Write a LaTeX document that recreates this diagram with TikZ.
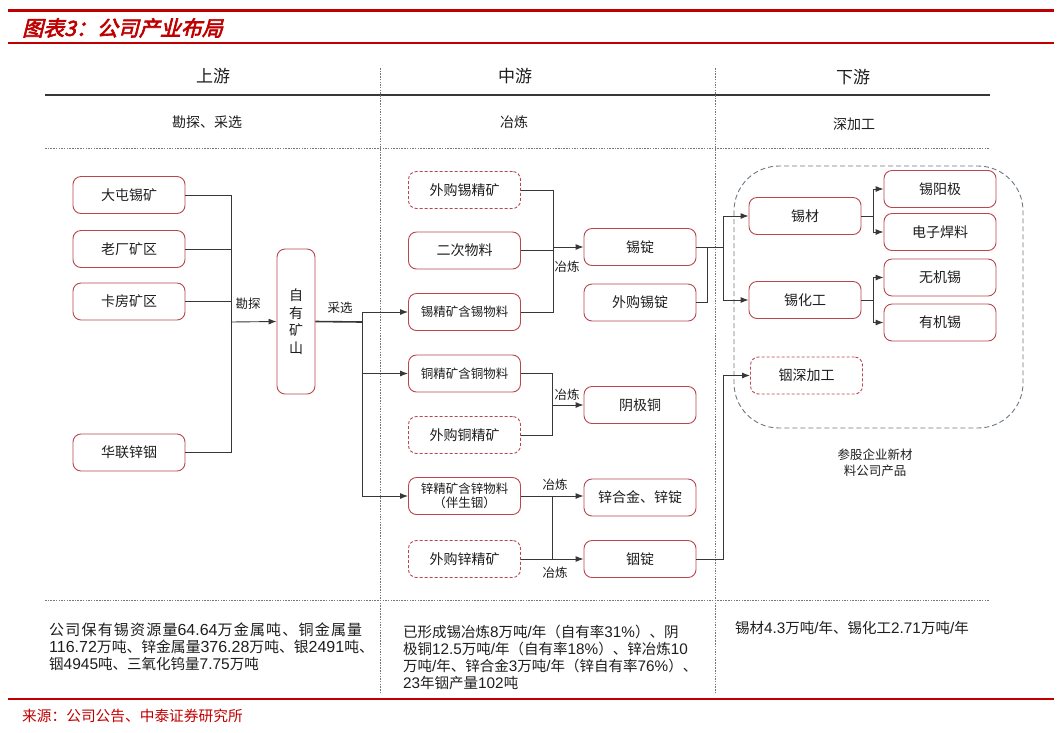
\documentclass[tikz,border=0pt]{standalone}
\usepackage{fontspec}
\setmainfont{Noto Sans CJK SC}
\newfontfamily\cjksp[LetterSpace=8]{Noto Sans CJK SC}
\newfontfamily\lat{Liberation Sans}
\newfontfamily\titlefont[FakeSlant=0.25,FakeBold=3]{Noto Sans CJK SC}
\usetikzlibrary{arrows.meta}
\definecolor{hdred}{RGB}{192,0,0}
\definecolor{boxred}{RGB}{185,70,78}
\definecolor{conn}{RGB}{55,55,55}
\definecolor{sepgray}{RGB}{120,120,120}
\definecolor{grpgray}{RGB}{110,120,130}
\definecolor{txt}{RGB}{30,30,30}
\newcommand\nm[1]{{\lat\fontsize{16}{17}\selectfont #1}}
\newcommand\nms[1]{{\lat\fontsize{15.5}{17}\selectfont #1}}
\newcommand\nmb[1]{{\lat\fontsize{15.3}{17}\selectfont #1}}
\tikzset{
  box/.style={draw=boxred, line width=0.9pt, rounded corners=8pt, fill=white,
    minimum width=112pt, minimum height=37pt, inner sep=0pt, text=txt,
    font=\fontsize{14}{16}\selectfont},
  dbox/.style={box, dash pattern=on 3pt off 2pt},
  smallbox/.style={box, font=\fontsize{12.5}{14}\selectfont},
  conline/.style={draw=conn, line width=0.9pt},
  arr/.style={conline, -{Latex[length=8pt,width=6pt]}},
  clabel/.style={font=\fontsize{12.5}{14}\selectfont, text=txt, inner sep=1pt},
  sep/.style={draw=sepgray, line width=0.8pt, dash pattern=on 1.5pt off 1.2pt},
  hdr/.style={font=\fontsize{17}{19}\selectfont, text=txt},
  subhdr/.style={font=\fontsize{14}{16}\selectfont, text=txt},
  note/.style={font=\fontsize{15}{17}\selectfont, text=txt, align=left, anchor=north west, inner sep=0pt},
  noteb/.style={font=\fontsize{14.5}{17}\selectfont, text=txt, align=left, anchor=north west, inner sep=0pt}
}
\begin{document}
\begin{tikzpicture}[x=1pt,y=-1pt]
\useasboundingbox[fill=white] (0,0) rectangle (1062,732);

% title bars
\draw[hdred, line width=3pt] (8,10) -- (1054,10);
\draw[hdred, line width=1.3pt] (8,43) -- (1054,43);
\node[anchor=west, text=hdred, font=\titlefont\fontsize{21}{23}\selectfont, inner sep=0pt] (title) at (22,28) {图表3：公司产业布局};

% table frame
\draw[draw=conn, line width=1.1pt] (45,95) -- (990,95);
\draw[sep] (45,148) -- (990,148);
\draw[sep] (45,600) -- (990,600);
\draw[sep] (380,68) -- (380,694);
\draw[sep] (715,68) -- (715,694);

\node[hdr] (h1) at (213,76) {上游};
\node[hdr] (h2) at (515,76) {中游};
\node[hdr] (h3) at (853,77) {下游};
\node[subhdr] (s1h) at (207,122) {勘探、采选};
\node[subhdr] (s2h) at (514,122) {冶炼};
\node[subhdr] (s3h) at (854,124) {深加工};

% group box
\draw[grpgray, line width=0.9pt, dash pattern=on 5pt off 3pt, rounded corners=45pt] (734,166) rectangle (1023,428);
\node[font=\fontsize{12.5}{16}\selectfont, text=txt, align=center] (grplabel) at (875,463) {参股企业新材\\料公司产品};

% upstream nodes
\node[box] (n1) at (129,195) {大屯锡矿};
\node[box] (n2) at (129,249) {老厂矿区};
\node[box] (n3) at (129,301.5) {卡房矿区};
\node[box] (n4) at (129,452.5) {华联锌铟};
\node[box, minimum width=38pt, minimum height=145pt, align=center, font=\fontsize{14}{17.5}\selectfont] (zy) at (296,321.5) {自\\有\\矿\\山};

% midstream raw
\node[dbox] (m1) at (464.5,190) {外购锡精矿};
\node[box] (m2) at (464.5,250.5) {二次物料};
\node[smallbox] (m3) at (464.5,312) {锡精矿含锡物料};
\node[smallbox] (m4) at (464.5,373.5) {铜精矿含铜物料};
\node[dbox] (m5) at (464.5,435) {外购铜精矿};
\node[smallbox, align=center] (m6) at (464.5,496) {锌精矿含锌物料\\（伴生铟）};
\node[dbox] (m7) at (464.5,559) {外购锌精矿};

% midstream products
\node[box] (t1) at (640,247) {锡锭};
\node[box] (t2) at (640,302.5) {外购锡锭};
\node[box] (t3) at (640,405) {阴极铜};
\node[box] (t4) at (640,497.5) {锌合金、锌锭};
\node[box] (t5) at (640,559) {铟锭};

% downstream
\node[box] (r1) at (805,216) {锡材};
\node[box] (r2) at (805,300) {锡化工};
\node[dbox] (r3) at (806.5,375.5) {铟深加工};
\node[box] (u1) at (940,189) {锡阳极};
\node[box] (u2) at (940,232) {电子焊料};
\node[box] (u3) at (940,277.5) {无机锡};
\node[box] (u4) at (940,322.5) {有机锡};

% junction coordinates
\coordinate (jK) at (231,322);
\coordinate (jL) at (362,322);
\coordinate (jA) at (553,247);
\coordinate (jD) at (552,405);
\coordinate (jE) at (552,496);
\coordinate (jF) at (552,559);
\coordinate (jB) at (707,247);
\coordinate (jC) at (723,247);
\coordinate (jG) at (723,375.5);
\coordinate (jH) at (873,216);
\coordinate (jI) at (873,300);

% upstream connectors
\draw[conline] (n1.east) -| (jK);
\draw[conline] (n2.east) -- (n2.east -| jK);
\draw[conline] (n3.east) -- (n3.east -| jK);
\draw[conline] (n4.east) -| (jK);
\draw[arr] (jK) -- (zy.west);
\node[clabel] (lk) at (248,304) {勘探};
\draw[draw=conn, line width=1.6pt] (zy.east) -- (jL);
\node[clabel] (lc) at (340,308) {采选};
\draw[arr] (jL) |- (m3.west);
\draw[arr] (jL) |- (m4.west);
\draw[arr] (jL) |- (m6.west);

% tin smelting
\draw[conline] (m1.east) -| (jA);
\draw[conline] (m2.east) -- (m2.east -| jA);
\draw[conline] (m3.east) -| (jA);
\draw[arr] (jA) -- (t1.west);
\node[clabel] (l1) at (567,267) {冶炼};

% copper
\draw[conline] (m4.east) -| (jD);
\draw[conline] (m5.east) -| (jD);
\draw[arr] (jD) -- (t3.west);
\node[clabel] (l2) at (567,395) {冶炼};

% zinc
\draw[conline] (m6.east) -- (jE);
\draw[arr] (jE) -- (jE -| t4.west);
\draw[conline] (jE) -- (jF);
\draw[conline] (m7.east) -- (jF);
\draw[arr] (jF) -- (t5.west);
\node[clabel] (l3) at (555,485) {冶炼};
\node[clabel] (l4) at (555,573) {冶炼};

% tin to downstream
\draw[conline] (t2.east) -| (jB);
\draw[conline] (t1.east) -- (jC);
\draw[arr] (jC) |- (r1.west);
\draw[arr] (jC) |- (r2.west);
\draw[conline] (t5.east) -| (jG);
\draw[arr] (jG) -- (r3.west);
\draw[conline] (r1.east) -- (jH);
\draw[arr] (jH) |- (u1.west);
\draw[arr] (jH) |- (u2.west);
\draw[conline] (r2.east) -- (jI);
\draw[arr] (jI) |- (u3.west);
\draw[arr] (jI) |- (u4.west);

% notes
\node[note] (t_left) at (49,623) {{\cjksp\fontsize{15}{17}\selectfont 公司保有锡资源量\nm{64.64}万金属吨、铜金属量}\\
{\fontsize{14.8}{17}\selectfont \nm{116.72}万吨、锌金属量\nm{376.28}万吨、银\nm{2491}吨、}\\
{\fontsize{14.5}{17}\selectfont 铟\nms{4945}吨、三氧化钨量\nms{7.75}万吨}};
\node[noteb] (t_mid) at (403,625) {已形成锡冶炼\nmb{8}万吨\nmb{/}年（自有率\nmb{31\%}）、阴\\
极铜\nmb{12.5}万吨\nmb{/}年（自有率\nmb{18\%}）、锌冶炼\nmb{10}\\
万吨\nmb{/}年、锌合金\nmb{3}万吨\nmb{/}年（锌自有率\nmb{76\%}）、\\
\nmb{23}年铟产量\nmb{102}吨};
\node[noteb] (t_right) at (735,621) {锡材\nmb{4.3}万吨\nmb{/}年、锡化工\nmb{2.71}万吨\nmb{/}年};

% source
\draw[hdred, line width=1.3pt] (8,699) -- (1054,699);
\node[anchor=west, text=hdred, font=\fontsize{14.7}{16}\selectfont, inner sep=0pt] (src) at (22,716) {来源：公司公告、中泰证券研究所};
\end{tikzpicture}
\end{document}
